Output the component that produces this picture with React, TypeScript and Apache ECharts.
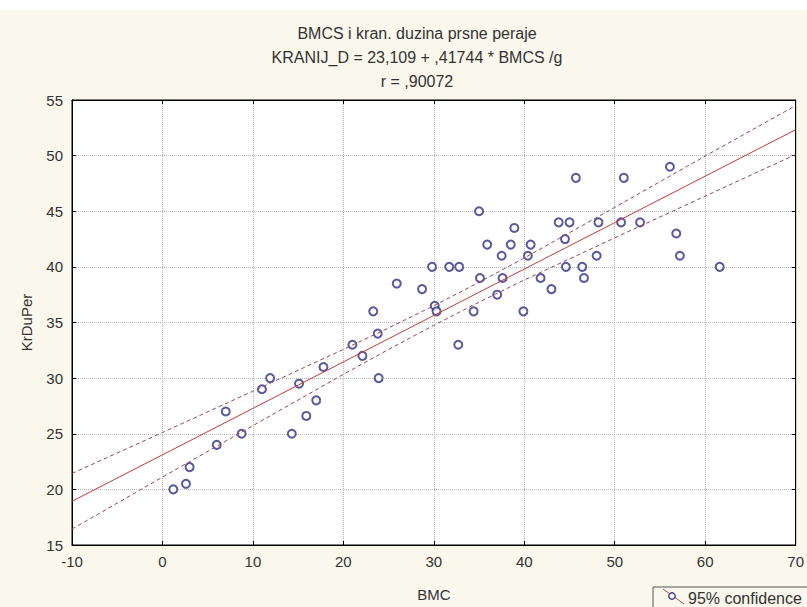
import React, { useEffect, useRef } from "react";
import * as echarts from "echarts";

const titleLines = ["BMCS i kran. duzina prsne peraje", "KRANIJ_D = 23,109 + ,41744 * BMCS /g", "r = ,90072"];
const xName = "BMC";
const yName = "KrDuPer";
const legendLabel = "95% confidence";

const bmc = [1.2, 2.6, 3.0, 6.0, 7.0, 8.75, 11.0, 11.9, 14.3, 15.1, 15.9, 17.0, 17.8, 21.0, 22.1, 23.3, 23.8, 23.9, 25.9, 28.7, 29.8, 30.1, 30.3, 31.7, 32.7, 32.8, 34.4, 35.0, 35.1, 35.9, 37.0, 37.5, 37.6, 38.5, 38.9, 39.9, 40.4, 40.7, 41.8, 43.0, 43.8, 44.5, 44.6, 45.0, 45.7, 46.4, 46.6, 48.0, 48.2, 50.7, 51.0, 52.8, 56.1, 56.8, 57.2, 61.6];
const krDuPer = [20, 20.5, 22, 24, 27, 25, 29, 30, 25, 29.5, 26.6, 28, 31, 33, 32, 36, 34, 30, 38.5, 38, 40, 36.5, 36, 40, 33, 40, 36, 45, 39, 42, 37.5, 41, 39, 42, 43.5, 36, 41, 42, 39, 38, 44, 42.5, 40, 44, 48, 40, 39, 41, 44, 44, 48, 44, 49, 43, 41, 40];

const regX = [-10, 70];
const regY = [18.93, 52.33];

const bandX = [-10, 0, 10, 20, 25, 30, 35, 40, 50, 60, 70];
const bandUpper = [21.43, 25.11, 28.83, 32.58, 34.51, 36.51, 38.61, 40.8, 45.35, 49.96, 54.5];
const bandLower = [16.43, 21.1, 25.73, 30.34, 32.58, 34.75, 36.83, 38.82, 42.61, 46.36, 50.1];

const FONT = "'Liberation Sans', Arial, sans-serif";

export default function App() {
  const ref = useRef<HTMLDivElement>(null);
  useEffect(() => {
    if (!ref.current) return;
    const chart = echarts.init(ref.current, undefined, { renderer: "svg" });
    const axisLabelStyle = { color: "#333", fontSize: 15, fontFamily: FONT };
    const option: any = {
      animation: false,
      backgroundColor: "#faf7ec",
      title: {
        text: titleLines.join("\n"),
        left: 412,
        top: 16,
        textAlign: "center",
        textStyle: { color: "#333", fontSize: 16, fontWeight: "normal", fontFamily: FONT, lineHeight: 24 },
      },
      grid: { left: 72, right: 11, top: 100, bottom: 57, show: true, backgroundColor: "#fff", borderColor: "#000", borderWidth: 1 },
      xAxis: [
        {
          type: "value", min: -10, max: 70, interval: 10,
          axisLine: { show: true, onZero: false, lineStyle: { color: "#000" } },
          axisTick: { show: true, inside: true, length: 4, lineStyle: { color: "#000" } },
          axisLabel: { ...axisLabelStyle, margin: 9 },
          splitLine: { show: true, lineStyle: { type: "dotted", color: "#b8b8b8" } },
          name: xName, nameLocation: "middle", nameGap: 42,
          nameTextStyle: { ...axisLabelStyle },
        },
        {
          type: "value", min: -10, max: 70, interval: 10, position: "top",
          axisLine: { show: true, onZero: false, lineStyle: { color: "#000" } },
          axisTick: { show: true, inside: true, length: 4, lineStyle: { color: "#000" } },
          axisLabel: { show: false }, splitLine: { show: false },
        },
      ],
      yAxis: [
        {
          type: "value", min: 15, max: 55, interval: 5,
          axisLine: { show: true, onZero: false, lineStyle: { color: "#000" } },
          axisTick: { show: true, inside: true, length: 4, lineStyle: { color: "#000" } },
          axisLabel: { ...axisLabelStyle, margin: 9 },
          splitLine: { show: true, lineStyle: { type: "dotted", color: "#b8b8b8" } },
          name: yName, nameLocation: "middle", nameGap: 38,
          nameTextStyle: { ...axisLabelStyle },
        },
        {
          type: "value", min: 15, max: 55, interval: 5, position: "right",
          axisLine: { show: true, onZero: false, lineStyle: { color: "#000" } },
          axisTick: { show: true, inside: true, length: 4, lineStyle: { color: "#000" } },
          axisLabel: { show: false }, splitLine: { show: false },
        },
      ],
      series: [
        {
          type: "line", data: bandX.map((x, i) => [x, bandUpper[i]]), showSymbol: false,
          lineStyle: { color: "#9a4655", width: 1, type: [4, 3] }, silent: true,
        },
        {
          type: "line", data: bandX.map((x, i) => [x, bandLower[i]]), showSymbol: false,
          lineStyle: { color: "#9a4655", width: 1, type: [4, 3] }, silent: true,
        },
        {
          type: "line", data: regX.map((x, i) => [x, regY[i]]), showSymbol: false,
          lineStyle: { color: "#c23b3b", width: 1 }, silent: true,
        },
        {
          type: "scatter", data: bmc.map((x, i) => [x, krDuPer[i]]), symbol: "emptyCircle", symbolSize: 8,
          itemStyle: { color: "#2f2f86", borderColor: "#2f2f86", borderWidth: 1.3 },
        },
      ],
      graphic: [
        { type: "rect", left: 0, top: 0, shape: { width: 807, height: 10 }, style: { fill: "#ffffff" }, silent: true },
        { type: "rect", shape: { x: 653, y: 587, width: 170, height: 40 }, style: { fill: "#faf7ec", stroke: "#555", lineWidth: 1 } },
        { type: "line", shape: { x1: 663, y1: 589, x2: 684, y2: 604 }, style: { stroke: "#b04a5a", lineWidth: 1 } },
        { type: "circle", shape: { cx: 672, cy: 596, r: 3.2 }, style: { fill: "#faf7ec", stroke: "#2f2f86", lineWidth: 1.3 } },
        { type: "text", x: 688, y: 598, style: { text: legendLabel, fill: "#333", font: `16px ${FONT}`, verticalAlign: "middle" } },
      ],
    };
    chart.setOption(option);
    return () => chart.dispose();
  }, []);
  return <div ref={ref} style={{ position: "absolute", left: 0, top: 0, width: 807, height: 607 }} />;
}
